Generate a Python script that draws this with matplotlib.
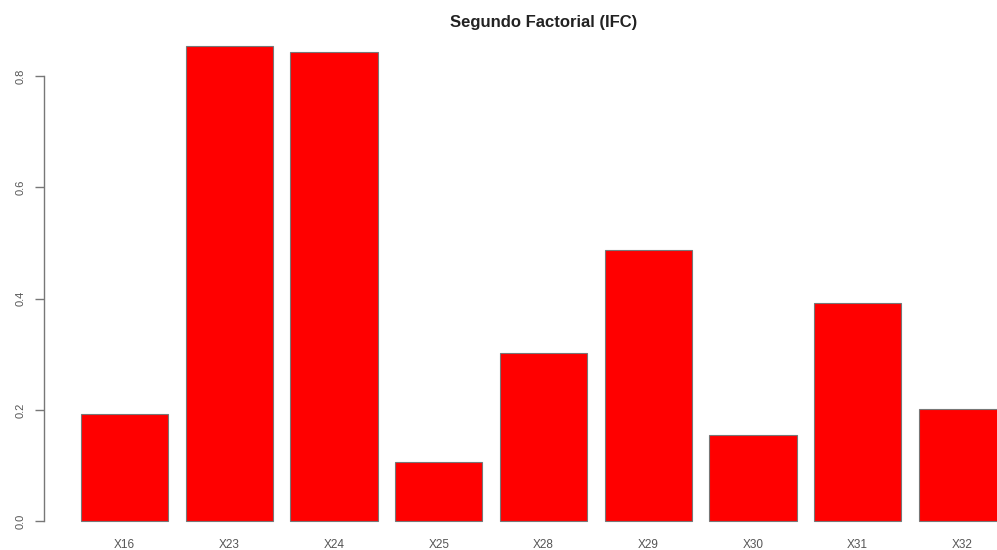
import matplotlib
matplotlib.use("Agg")
import matplotlib.pyplot as plt
import numpy as np

# datos
categorias = ["X16", "X23", "X24", "X25", "X28", "X29", "X30", "X31", "X32"]
valores = [0.192, 0.854, 0.844, 0.106, 0.302, 0.487, 0.155, 0.392, 0.201]
y_ticks = [0.0, 0.2, 0.4, 0.6, 0.8]
titulo = "Segundo Factorial (IFC)"

plt.rcParams['font.family'] = ['Liberation Sans', 'DejaVu Sans']

W, H = 997, 550
fig = plt.figure(figsize=(W / 100, H / 100), dpi=100)

# region de dibujo estilo R (se sale por la derecha, como el original)
x0, x1 = 44, 1043
y_top, y_bot = 27, 538
ax = fig.add_axes([x0 / W, (H - y_bot) / H, (x1 - x0) / W, (y_bot - y_top) / H])

# barplot de R: ancho 1, espacio 0.2
n = len(valores)
centros = 0.7 + 1.2 * np.arange(n)
ax.bar(centros, valores, width=1.0, color="#ff0000", edgecolor="#777777", linewidth=0.8)

xmin, xmax = 0.2, centros[-1] + 0.5
pad = 0.04 * (xmax - xmin)
ax.set_xlim(xmin - pad, xmax + pad)
ymax = max(valores)
ax.set_ylim(-0.035 * ymax, ymax * 1.04)

for s in ["top", "right", "bottom"]:
    ax.spines[s].set_visible(False)
ax.spines["left"].set_bounds(0, 0.8)
ax.spines["left"].set_color("#777777")
ax.spines["left"].set_linewidth(1.0)

ax.set_yticks(y_ticks)
ax.set_yticklabels([f"{t:.1f}" for t in y_ticks], rotation=90, va="center",
                   fontsize=8, color="#555555")
ax.tick_params(axis="y", direction="out", length=6.5, width=1.0, color="#777777", pad=7)

ax.set_xticks(centros)
ax.set_xticklabels(categorias, fontsize=8.5, color="#555555")
ax.tick_params(axis="x", length=0, pad=1)

fig.text((x0 + x1) / 2 / W, 1 - 22 / H, titulo, ha="center", va="center",
         fontsize=12, fontweight="bold", color="#222222")

fig.savefig("out.png", dpi=100)
